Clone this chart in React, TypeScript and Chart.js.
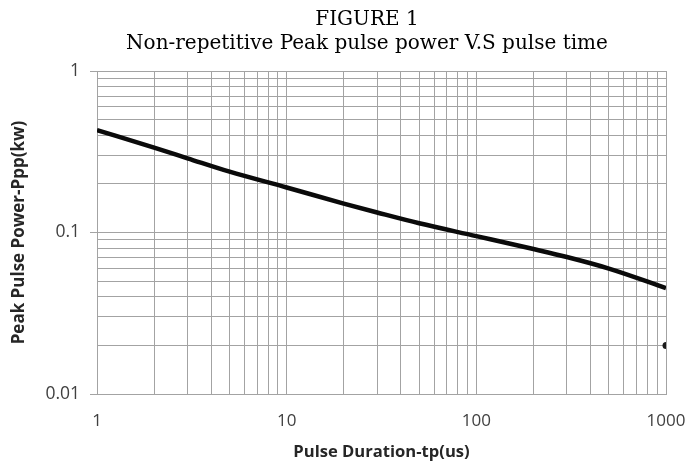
import React, { useEffect, useRef } from 'react';
import { Chart, registerables } from 'chart.js';

Chart.register(...registerables);

// ---- Data ----
const titleLines = ['FIGURE 1', 'Non-repetitive Peak pulse power V.S pulse time'];
const xAxisTitle = 'Pulse Duration-tp(us)';
const yAxisTitle = 'Peak Pulse Power-Ppp(kw)';

// Pulse duration (us) and peak pulse power (kW)
const pulseDuration = [1, 2, 3, 5, 10, 20, 30, 50, 100, 200, 300, 500, 1000];
const peakPower = [0.431, 0.335, 0.288, 0.238, 0.19, 0.151, 0.133, 0.114, 0.095, 0.079, 0.0705, 0.0598, 0.0453];

// small mark at the right edge
const markerX = [1000];
const markerY = [0.02];

const xTickValues = [1, 10, 100, 1000];
const xTickLabels = ['1', '10', '100', '1000'];
const yTickValues = [0.01, 0.1, 1];
const yTickLabels = ['0.01', '0.1', '1'];

// ---- helpers ----
const sameLog = (a: number, b: number) => Math.abs(Math.log10(a) - Math.log10(b)) < 1e-6;
const majorIndex = (v: number, list: number[]) => list.findIndex((t) => sameLog(v, t));
const logGridTicks = (decades: number[]) => {
  const out: { value: number }[] = [];
  for (let i = 0; i < decades.length - 1; i++) {
    for (let k = 1; k <= 9; k++) out.push({ value: decades[i] * k });
  }
  out.push({ value: decades[decades.length - 1] });
  return out;
};

const GRID = '#a3a3a3';
const TICK_TEXT = '#404040';
const SANS = '"Open Sans", "Liberation Sans", Arial, sans-serif';

const figureTitlePlugin = {
  id: 'figureTitle',
  afterDraw(chart: any) {
    const ctx = chart.ctx;
    ctx.save();
    ctx.fillStyle = '#000000';
    ctx.textAlign = 'center';
    ctx.textBaseline = 'alphabetic';
    ctx.font = '20px "DejaVu Serif"';
    ctx.fillText(titleLines[0], 367, 25);
    ctx.fillText(titleLines[1], 367, 49);
    ctx.restore();
  },
};

export default function App() {
  const canvasRef = useRef<HTMLCanvasElement | null>(null);

  useEffect(() => {
    const canvas = canvasRef.current;
    if (!canvas) return;
    const chart = new Chart(canvas, {
      type: 'line',
      data: {
        datasets: [
          {
            label: 'Ppp',
            data: pulseDuration.map((x, i) => ({ x, y: peakPower[i] })),
            borderColor: '#0a0a0a',
            borderWidth: 4.5,
            pointRadius: 0,
            cubicInterpolationMode: 'monotone',
            fill: false,
          },
          {
            label: 'mark',
            data: markerX.map((x, i) => ({ x, y: markerY[i] })),
            showLine: false,
            pointRadius: 3.5,
            pointBorderWidth: 0,
            pointBackgroundColor: '#1a1a1a',
            clip: 0,
          } as any,
        ],
      },
      options: {
        responsive: false,
        animation: false,
        devicePixelRatio: 1,
        layout: { padding: { top: 71, right: 23, bottom: 0, left: 0 } },
        plugins: {
          legend: { display: false },
          tooltip: { enabled: false },
          title: { display: false },
        },
        scales: {
          x: {
            type: 'logarithmic',
            position: 'bottom',
            min: 1,
            max: 1000,
            afterBuildTicks: (s: any) => {
              s.ticks = logGridTicks(xTickValues);
            },
            afterFit: (s: any) => {
              s.height = 70;
              s.paddingLeft = 0;
              s.paddingRight = 0;
            },
            grid: { color: GRID, lineWidth: 1, drawTicks: false },
            border: { display: true, color: GRID, width: 1 },
            ticks: {
              autoSkip: false,
              maxRotation: 0,
              padding: 17,
              color: TICK_TEXT,
              font: { family: SANS, size: 17 },
              callback: (v: any) => {
                const i = majorIndex(Number(v), xTickValues);
                return i >= 0 ? xTickLabels[i] : '';
              },
            },
            title: {
              display: true,
              text: xAxisTitle,
              color: '#262626',
              font: { family: SANS, size: 16.6, weight: 'bold' },
              padding: { top: 0, bottom: 2 },
            },
          },
          y: {
            type: 'logarithmic',
            min: 0.01,
            max: 1,
            afterBuildTicks: (s: any) => {
              s.ticks = logGridTicks(yTickValues);
            },
            afterFit: (s: any) => {
              s.width = 97;
              s.paddingTop = 0;
              s.paddingBottom = 0;
            },
            grid: {
              color: GRID,
              lineWidth: 1,
              drawTicks: true,
              tickLength: 7,
              tickColor: (c: any) =>
                c.tick && majorIndex(c.tick.value, yTickValues) >= 0 ? GRID : 'rgba(0,0,0,0)',
            },
            border: { display: true, color: GRID, width: 1 },
            ticks: {
              autoSkip: false,
              padding: 10,
              color: TICK_TEXT,
              font: { family: SANS, size: 17.5 },
              callback: (v: any) => {
                const i = majorIndex(Number(v), yTickValues);
                return i >= 0 ? yTickLabels[i] : '';
              },
            },
            title: {
              display: true,
              text: yAxisTitle,
              color: '#262626',
              font: { family: SANS, size: 17, weight: 'bold' },
              padding: { top: 9, bottom: 0 },
            },
          },
        },
      } as any,
      plugins: [figureTitlePlugin],
    });
    return () => chart.destroy();
  }, []);

  return (
    <div style={{ position: 'fixed', left: 0, top: 0, width: 689, height: 464, background: '#ffffff' }}>
      <canvas ref={canvasRef} width={689} height={464} style={{ width: 689, height: 464, display: 'block' }} />
    </div>
  );
}
